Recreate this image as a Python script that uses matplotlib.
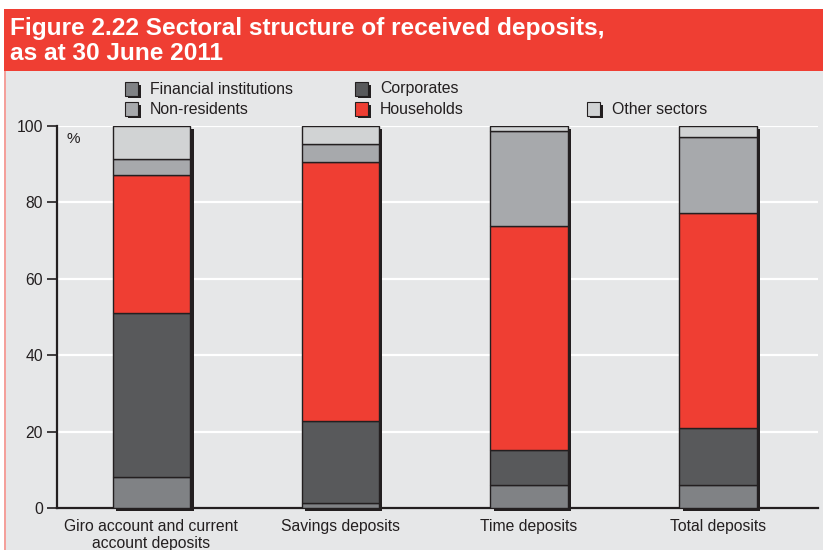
import numpy as np
import matplotlib.pyplot as plt
from matplotlib.patches import Rectangle

# data (% shares, stacked from bottom)
categories = ['Giro account and current\naccount deposits', 'Savings deposits',
              'Time deposits', 'Total deposits']
financial = [8.1, 1.4, 6.0, 6.0]
corporates = [42.9, 21.4, 9.2, 14.9]
households = [36.2, 67.8, 58.6, 56.3]
nonresidents = [4.2, 4.7, 25.0, 19.8]
other = [8.6, 4.7, 1.2, 3.0]

series = [('Financial institutions', financial, '#808285'),
          ('Corporates', corporates, '#58595b'),
          ('Households', households, '#ef3e33'),
          ('Non-residents', nonresidents, '#a7a9ac'),
          ('Other sectors', other, '#d1d3d4')]

plt.rcParams['font.family'] = ['Liberation Sans', 'DejaVu Sans']
RED = '#ef3e33'
BG = '#e6e7e8'
EDGE = '#231f20'

fig = plt.figure(figsize=(8.23, 5.5), dpi=100)
W, H = 823.0, 550.0

def fx(px):
    return px / W

def fy(py):
    return 1 - py / H

# body background + header band
fig.patches.append(Rectangle((fx(5), 0), 1 - fx(5), fy(70), transform=fig.transFigure,
                             facecolor=BG, edgecolor='none', zorder=-10))
fig.patches.append(Rectangle((fx(4), 0), fx(1.5), fy(70), transform=fig.transFigure,
                             facecolor='#f4a09b', edgecolor='none', zorder=-9))
fig.patches.append(Rectangle((fx(4), fy(71)), 1 - fx(4), fy(9) - fy(71),
                             transform=fig.transFigure, facecolor=RED,
                             edgecolor='none', zorder=-9))
fig.text(fx(10), fy(29), 'Figure 2.22 Sectoral structure of received deposits,',
         color='white', fontsize=17.6, fontweight='bold', va='center')
fig.text(fx(10), fy(53), 'as at 30 June 2011',
         color='white', fontsize=17.6, fontweight='bold', va='center')

ax = fig.add_axes([fx(57), fy(508), fx(818) - fx(57), fy(126) - fy(508)])
ax.patch.set_alpha(0)

x = np.arange(len(categories))
bw = 0.41
dx = 3.5 / 189.0
dy = 3.0 / 3.82

# shadow behind bars
ax.bar(x + dx, 100, bw, bottom=-dy, color='#231f20', zorder=2, clip_on=False)

bottom = np.zeros(len(categories))
for name, vals, col in series:
    ax.bar(x, vals, bw, bottom=bottom, color=col, edgecolor=EDGE,
           linewidth=1.0, zorder=3, label=name)
    bottom += np.array(vals)

ax.set_xlim(-0.5, 3.53)
ax.set_ylim(0, 100)
ax.set_yticks([0, 20, 40, 60, 80, 100])
ax.yaxis.grid(True, color='white', linewidth=1.6, zorder=0)
ax.set_axisbelow(True)
ax.set_xticks(x)
ax.set_xticklabels(categories, fontsize=11.3, color='#231f20', linespacing=1.12)
ax.tick_params(axis='x', length=0, pad=8)
ax.tick_params(axis='y', length=7, width=1.2, color='#231f20', labelsize=11.3,
               labelcolor='#231f20', pad=3)
for s in ['top', 'right']:
    ax.spines[s].set_visible(False)
ax.spines['left'].set_linewidth(1.6)
ax.spines['left'].set_color('#231f20')
ax.spines['bottom'].set_linewidth(1.6)
ax.spines['bottom'].set_color('#231f20')
ax.text(0.012, 0.985, '%', transform=ax.transAxes, fontsize=11, va='top',
        color='#231f20')

# legend drawn by hand: (name, marker x, row y)
legend_pos = {'Financial institutions': (125, 89), 'Corporates': (355, 89),
              'Non-residents': (125, 109), 'Households': (355, 109),
              'Other sectors': (587, 109)}
for name, vals, col in series:
    px, py = legend_pos[name]
    fig.patches.append(Rectangle((fx(px + 2.5), fy(py + 9)), fx(13), fy(0) - fy(13),
                                 transform=fig.transFigure, facecolor='#231f20',
                                 edgecolor='none', zorder=3))
    fig.patches.append(Rectangle((fx(px), fy(py + 6.5)), fx(13), fy(0) - fy(13),
                                 transform=fig.transFigure, facecolor=col,
                                 edgecolor='#231f20', linewidth=0.8, zorder=4))
    fig.text(fx(px + 25), fy(py), name, fontsize=11.4, va='center',
             color='#231f20')

fig.savefig('out.png', dpi=100, facecolor='white')
